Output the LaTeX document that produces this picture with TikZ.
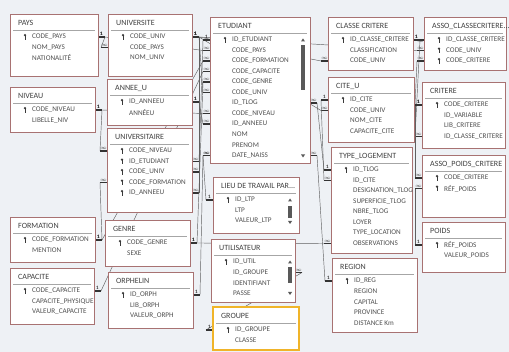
\documentclass[tikz,border=0pt]{standalone}
\usepackage{fontspec}
\setmainfont{Carlito}
\pgfdeclarelayer{bg}
\pgfdeclarelayer{lines}
\pgfdeclarelayer{boxes}
\pgfsetlayers{bg,lines,boxes,main}

\definecolor{canvas}{HTML}{EEF1F5}
\definecolor{tabborder}{HTML}{A87272}
\definecolor{fieldtext}{HTML}{505050}
\definecolor{keycol}{HTML}{3A3A3A}
\definecolor{selborder}{HTML}{F0B429}
\definecolor{selrow}{HTML}{F6C6C6}

\tikzset{
  tablebox/.style={draw=tabborder, line width=0.8pt, fill=white, inner sep=0pt, outer sep=0pt},
  tabtitle/.style={anchor=west, inner sep=0pt, text=fieldtext!80!black, font=\fontsize{8}{9}\selectfont},
  field/.style={anchor=west, inner sep=0pt, text=fieldtext, font=\fontsize{7.2}{8}\selectfont},
  sepline/.style={draw=gray!70, line width=0.6pt},
  keymark/.style={keycol, line width=0.9pt},
  relline/.style={draw=gray!75!black, line width=0.45pt},
  relstub/.style={draw=black!80, line width=1.1pt},
  rellabel/.style={above=0.2pt, inner sep=0.3pt, font=\fontsize{5}{5}\selectfont\bfseries, text=black!80},
  scrollbit/.style={fill=black!65},
}

% key symbol in front of a primary key field
\newcommand\keyicon[2]{%
  \fill[keycol] (#1,#2-1.8) circle[radius=1.3pt];
  \draw[keymark] (#1,#2-1.8) -- (#1,#2+2.8);
  \draw[keymark, line width=0.7pt] (#1,#2+1.6) -- (#1+1.3,#2+1.6);
}

% table: name, x0, y0, x1, y1, title, {key/field,...}
\newcommand\dbtable[7]{%
  \begin{pgfonlayer}{boxes}
    \node[tablebox, minimum width={(#4-#2)*1pt}, minimum height={(#5-#3)*1pt}] (#1) at ({(#2+#4)/2},{(#3+#5)/2}) {};
  \end{pgfonlayer}
  \node[tabtitle] (#1-title) at (#2+8,#3+9) {#6};
  \draw[sepline] (#2+3,#3+16.5) -- (#4-3,#3+16.5);
  \foreach \k/\f [count=\i] in {#7} {
    \pgfmathsetmacro\rowy{#3+23+10.5*(\i-1)}
    \node[field] (#1-\i) at (#2+22,\rowy) {\f};
    \if y\k \keyicon{#2+15}{\rowy}\fi
    \coordinate (#1-\i-l) at (#2,\rowy);
    \coordinate (#1-\i-ll) at (#2-7,\rowy);
    \coordinate (#1-\i-r) at (#4,\rowy);
    \coordinate (#1-\i-rr) at (#4+7,\rowy);
  }
}

% relation: [end label options] field, side, field, side, label, label
\newcommand\relation[7][]{%
  \draw[relline] (#2-#3#3) -- (#4-#5#5);
  \draw[relstub] (#2-#3) -- (#2-#3#3) node[midway, rellabel] {#6};
  \draw[relstub] (#4-#5) -- (#4-#5#5) node[midway, rellabel, #1] {#7};
}

\begin{document}
\begin{tikzpicture}[x=1pt, y=-1pt]
  \useasboundingbox (0,0) rectangle (509,352);
  \begin{pgfonlayer}{bg}
    \fill[canvas] (0,0) rectangle (509,352);
  \end{pgfonlayer}

  % left column
  \dbtable{pays}{10}{14}{98}{76}{PAYS}{y/CODE\_PAYS, n/NOM\_PAYS, n/NATIONALITÉ}
  \dbtable{niveau}{10}{87}{95}{132}{NIVEAU}{y/CODE\_NIVEAU, n/LIBELLE\_NIV}
  \dbtable{formation}{10}{217}{95}{262}{FORMATION}{y/CODE\_FORMATION, n/MENTION}
  \dbtable{capacite}{10}{268}{94}{324}{CAPACITE}{y/CODE\_CAPACITE, n/CAPACITE\_PHYSIQUE, n/VALEUR\_CAPACITE}

  % second column
  \dbtable{univ}{108}{14}{192}{76}{UNIVERSITE}{y/CODE\_UNIV, n/CODE\_PAYS, n/NOM\_UNIV}
  \dbtable{annee}{107}{79}{192}{125}{ANNEE\_U}{y/ID\_ANNEEU, n/ANNÉEU}
  \dbtable{univtaire}{107}{128}{192}{212}{UNIVERSITAIRE}{y/CODE\_NIVEAU, y/ID\_ETUDIANT, y/CODE\_UNIV, y/CODE\_FORMATION, y/ID\_ANNEEU}
  \dbtable{genre}{105}{220}{190}{266}{GENRE}{y/CODE\_GENRE, n/SEXE}
  \dbtable{orphelin}{108}{272}{193}{328}{ORPHELIN}{y/ID\_ORPH, n/LIB\_ORPH, n/VALEUR\_ORPH}

  % third column
  \dbtable{etu}{210}{17}{310}{163}{ETUDIANT}{y/ID\_ETUDIANT, n/CODE\_PAYS, n/CODE\_FORMATION, n/CODE\_CAPACITE, n/CODE\_GENRE, n/CODE\_UNIV, n/ID\_TLOG, n/CODE\_NIVEAU, n/ID\_ANNEEU, n/NOM, n/PRENOM, n/DATE\_NAISS}
  \dbtable{lieu}{213}{177}{299}{233}{LIEU DE TRAVAIL PAR...}{y/ID\_LTP, n/LTP, n/VALEUR\_LTP}
  \dbtable{util}{211}{239}{295}{302}{UTILISATEUR}{y/ID\_UTIL, n/ID\_GROUPE, n/IDENTIFIANT, n/PASSE}
  \begin{pgfonlayer}{boxes}
    \fill[selrow] (218,325) rectangle (294,336);
  \end{pgfonlayer}
  \dbtable{groupe}{213}{307}{299}{350}{GROUPE}{y/ID\_GROUPE, n/CLASSE}
  \draw[draw=selborder, line width=1.4pt] (groupe.north west) rectangle (groupe.south east);

  % fourth column
  \dbtable{classe}{328}{17}{413}{70}{CLASSE CRITERE}{y/ID\_CLASSE\_CRITERE, n/CLASSIFICATION, n/CODE\_UNIV}
  \dbtable{cite}{328}{77}{414}{142}{CITE\_U}{y/ID\_CITE, n/CODE\_UNIV, n/NOM\_CITE, n/CAPACITE\_CITE}
  \dbtable{tlog}{331}{147}{412}{253}{TYPE\_LOGEMENT}{y/ID\_TLOG, n/ID\_CITE, n/DESIGNATION\_TLOG, n/SUPERFICIE\_TLOG, n/NBRE\_TLOG, n/LOYER, n/TYPE\_LOCATION, n/OBSERVATIONS}
  \dbtable{region}{332}{258}{417}{332}{REGION}{y/ID\_REG, n/REGION, n/CAPITAL, n/PROVINCE, n/DISTANCE Km}

  % right column
  \dbtable{assoclasse}{424}{17}{506}{70}{ASSO\_CLASSECRITERE...}{y/ID\_CLASSE\_CRITERE, y/CODE\_UNIV, y/CODE\_CRITERE}
  \dbtable{critere}{422}{82}{505}{148}{CRITERE}{y/CODE\_CRITERE, n/ID\_VARIABLE, n/LIB\_CRITERE, n/ID\_CLASSE\_CRITERE}
  \dbtable{assopoids}{422}{155}{505}{217}{ASSO\_POIDS\_CRITERE}{y/CODE\_CRITERE, y/RÉF\_POIDS}
  \dbtable{poids}{422}{222}{505}{272}{POIDS}{y/RÉF\_POIDS, n/VALEUR\_POIDS}

  % scroll bars
  \fill[scrollbit] (301,41.5) -- (305,41.5) -- (303,38.5) -- cycle;
  \fill[scrollbit] (301,45) rectangle (305,90);
  \fill[scrollbit] (301,154.5) -- (305,154.5) -- (303,157.5) -- cycle;
  \fill[scrollbit] (288,201.5) -- (292,201.5) -- (290,198.5) -- cycle;
  \fill[scrollbit] (288,206) rectangle (292,218);
  \fill[scrollbit] (288,221) -- (292,221) -- (290,224) -- cycle;
  \fill[scrollbit] (288,263.5) -- (292,263.5) -- (290,260.5) -- cycle;
  \fill[scrollbit] (288,267) rectangle (292,283);
  \fill[scrollbit] (288,292) -- (292,292) -- (290,295) -- cycle;

  % relations
  \begin{pgfonlayer}{lines}
    \relation{pays-1}{r}{univ-2}{l}{1}{$\infty$}
    \relation{pays-1}{r}{etu-2}{l}{1}{$\infty$}
    \relation{univ-1}{r}{etu-6}{l}{1}{$\infty$}
    \relation{univ-1}{r}{univtaire-3}{r}{1}{$\infty$}
    \relation{univ-1}{r}{classe-3}{l}{1}{$\infty$}
    \relation{univ-1}{r}{cite-2}{l}{1}{$\infty$}
    \relation{univ-1}{r}{assoclasse-2}{l}{1}{$\infty$}
    \relation{annee-1}{r}{etu-9}{l}{1}{$\infty$}
    \relation{annee-1}{r}{univtaire-5}{r}{1}{$\infty$}
    \relation{niveau-1}{r}{univtaire-1}{l}{1}{$\infty$}
    \relation{niveau-1}{r}{etu-8}{l}{1}{$\infty$}
    \relation{formation-1}{r}{univtaire-4}{l}{1}{$\infty$}
    \relation{formation-1}{r}{etu-3}{l}{1}{$\infty$}
    \relation{genre-1}{r}{etu-5}{l}{1}{$\infty$}
    \relation{genre-1}{r}{tlog-8}{l}{1}{$\infty$}
    \relation{capacite-1}{r}{etu-4}{l}{1}{$\infty$}
    \relation{orphelin-1}{r}{etu-12}{l}{1}{$\infty$}
    \relation{etu-1}{l}{univtaire-2}{r}{1}{$\infty$}
    \relation{lieu-1}{l}{etu-12}{l}{1}{$\infty$}
    \relation{groupe-1}{l}{util-2}{r}{1}{$\infty$}
    \relation{region-1}{l}{etu-12}{r}{1}{$\infty$}
    \relation{tlog-1}{l}{etu-7}{r}{1}{$\infty$}
    \relation{cite-1}{l}{tlog-2}{l}{1}{$\infty$}
    \relation[below=0.2pt]{classe-1}{r}{assoclasse-1}{l}{1}{$\infty$}
    \relation{critere-1}{l}{assoclasse-3}{l}{1}{$\infty$}
    \relation{classe-1}{r}{critere-4}{l}{1}{$\infty$}
    \relation{critere-1}{l}{assopoids-1}{l}{1}{$\infty$}
    \relation{poids-1}{l}{assopoids-2}{l}{1}{$\infty$}
  \end{pgfonlayer}
\end{tikzpicture}
\end{document}
